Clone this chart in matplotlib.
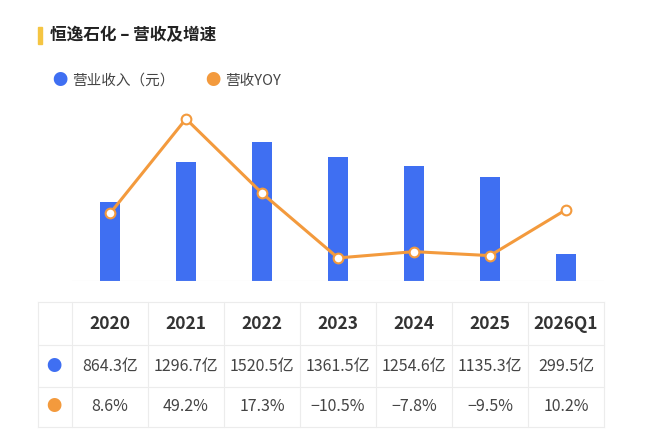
import matplotlib.pyplot as plt

plt.rcParams['font.family'] = ['Noto Sans CJK SC', 'DejaVu Sans']

years = ['2020', '2021', '2022', '2023', '2024', '2025', '2026Q1']
revenue = [864.3, 1296.7, 1520.5, 1361.5, 1254.6, 1135.3, 299.5]
yoy = [8.6, 49.2, 17.3, -10.5, -7.8, -9.5, 10.2]
rev_labels = ['864.3亿', '1296.7亿', '1520.5亿', '1361.5亿', '1254.6亿', '1135.3亿', '299.5亿']
yoy_labels = ['8.6%', '49.2%', '17.3%', '−10.5%', '−7.8%', '−9.5%', '10.2%']

W, H = 650, 436
blue = '#3f6ff2'
orange = '#f39a3d'
fig = plt.figure(figsize=(6.5, 4.36), dpi=100)

def fx(px):
    return px / W

def fy(py):
    return 1 - py / H

# title
fig.add_artist(plt.Rectangle((fx(38), fy(44)), fx(4), 17 / H, color='#f5c542', transform=fig.transFigure))
fig.text(fx(50), fy(35), '恒逸石化 – 营收及增速', fontsize=12, weight='bold', color='#222222', va='center')

# legend
fig.text(fx(60), fy(81), '●', color=blue, fontsize=11, va='center', ha='center')
fig.text(fx(72), fy(81), '营业收入（元）', fontsize=10.5, color='#444444', va='center')
fig.text(fx(213), fy(81), '●', color=orange, fontsize=11, va='center', ha='center')
fig.text(fx(225), fy(81), '营收YOY', fontsize=10.5, color='#444444', va='center')

ax = fig.add_axes([fx(72), fy(281), (604 - 72) / W, 181 / H])
x = range(len(years))
ax.bar(x, revenue, width=0.26, color=blue)
ax.set_xlim(-0.5, 6.5)
ax.set_ylim(0, 1980)
ax.axis('off')
ax.plot([-0.5, 6.5], [0, 0], color='#dddddd', lw=0.8)

ax2 = ax.twinx()
ax2.plot(x, yoy, color=orange, lw=2.2, marker='o', markersize=7,
         markerfacecolor='white', markeredgecolor=orange, markeredgewidth=1.5)
ax2.set_ylim(-20.4, 57.3)
ax2.axis('off')

# table
grid = '#ececec'
cols = [38, 72] + [72 + 76 * (i + 1) for i in range(7)]
rows = [302, 345, 387, 427]
for c in cols:
    fig.add_artist(plt.Line2D([fx(c), fx(c)], [fy(302), fy(427)], color=grid, lw=0.8))
for r in rows:
    fig.add_artist(plt.Line2D([fx(38), fx(604)], [fy(r), fy(r)], color=grid, lw=0.8))
fig.text(fx(54), fy(366), '●', color=blue, fontsize=11, ha='center', va='center')
fig.text(fx(54), fy(406), '●', color=orange, fontsize=11, ha='center', va='center')
for i in range(7):
    cx = fx(110 + 76 * i)
    fig.text(cx, fy(324), years[i], fontsize=12.5, weight='bold', color='#333333', ha='center', va='center')
    fig.text(cx, fy(366), rev_labels[i], fontsize=11.5, color='#444444', ha='center', va='center')
    fig.text(cx, fy(406), yoy_labels[i], fontsize=11.5, color='#444444', ha='center', va='center')

fig.savefig('out.png', dpi=100, facecolor='white')
